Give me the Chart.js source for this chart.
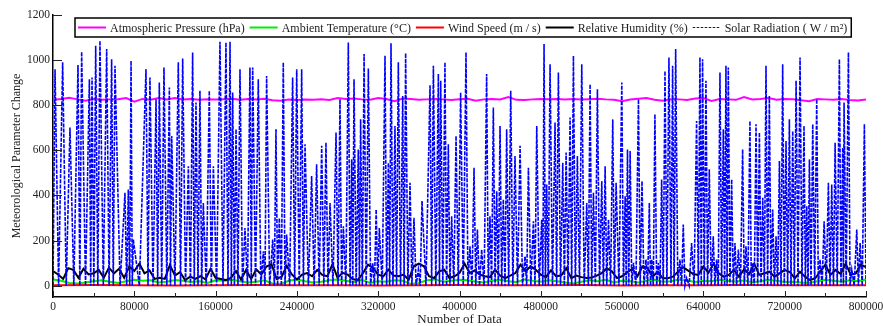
<!DOCTYPE html>
<html><head><meta charset="utf-8">
<script src="https://cdn.jsdelivr.net/npm/chart.js@4.4.1/dist/chart.umd.min.js"></script>
<style>html,body{margin:0;padding:0;background:#fff;overflow:hidden}</style>
</head><body>
<canvas id="c" width="883" height="326"></canvas>
<script>
// ---------------- DATA ----------------
const seriesNames = ['Atmospheric Pressure (hPa)', 'Ambient Temperature (°C)', 'Wind Speed (m / s)', 'Relative Humidity (%)', 'Solar Radiation ( W / m²)'];
const xTickValues = [0, 80000, 160000, 240000, 320000, 400000, 480000, 560000, 640000, 720000, 800000];
const yTickValues = [0, 200, 400, 600, 800, 1000, 1200];

// Solar radiation: data index (in thousands) and value (W/m2)
const solarIndexK = [
0,2,5.5,9.5,13,16.7,20.5,24.6,26.4,28.2,
32,35.8,37.1,38.4,40.2,42,44.1,46.2,49.5,52.8,
55.2,57.7,59.3,61,66,70.8,72.5,74.1,75.5,76.8,
78,79,85,91.5,93.5,95.4,98.4,101.4,103,104.6,
107,109.2,112,114.5,115.6,116.8,120,123.3,125.5,127.6,
130.4,133.2,135.3,137.4,139,140.7,142.7,144.6,146.3,147.9,
150.8,153.8,155.8,157.8,161,164.3,167.3,170.2,172.2,174.2,
175.5,176.8,178.5,180.1,182,184,186.5,188.9,191.4,193.8,
195.1,196.5,199.3,202,204.5,207,208.6,210.2,213.2,216.2,
217.8,219.4,221,222.7,224.7,226.6,228.3,229.9,232.9,235.8,
237.8,239.8,242.3,244.7,246.4,248,251.3,254.5,257,259.4,
261.9,264.4,266.5,268.6,270.6,272.6,275.5,278.5,280.5,282.4,
284,285.7,288.2,290.6,292.3,293.9,295,296.2,298.3,300.4,
301.5,302.7,304.4,306.1,308.2,310.3,312.5,314.6,316.3,318,
319.6,321.1,324,326.7,328.3,330,331.3,332.6,334.5,336.5,
338.1,339.8,342,344.1,345.5,347,349.2,351.3,353.2,355.2,
357.3,359.5,361.3,363.1,367,371,372.6,374.3,376.7,379.2,
380.3,381.5,383.6,385.7,387.3,389,390.6,392.3,394.4,396.6,
398.8,401.1,403.7,406.4,408.3,410.3,412.3,414.3,416,417.6,
419.7,421.8,424.2,426.7,428.3,430,431.6,433.3,435,436.6,
438.2,439.9,441.5,443.1,444.8,446.4,448.4,450.4,452.5,454.6,
457.1,459.6,462,464.5,466.1,467.8,470.2,472.7,474.3,476,
478.4,480.9,482,483.2,484.5,485.8,487.4,489.1,491.5,494,
495.6,497.3,499.4,501.6,503.2,504.9,506.8,508.8,510.4,512.1,
514,516,518.1,520.3,522.7,525.2,526.8,528.5,530.1,531.8,
533.7,535.7,537.8,540,541.6,543.3,544.9,546.6,548.7,550.8,
552.4,554.1,556.9,559.7,561.3,563,564.1,565.3,566.6,567.9,
569.5,571.2,573.6,576.1,577.8,579.6,581.5,583.5,585.1,586.8,
588,589.1,590.7,592.3,594,595.7,597.3,598.9,600.5,602.2,
604.1,606.1,608.1,609.7,611.2,612.7,614.8,616.9,618.5,620.2,
621.8,623.5,626,628.4,630.8,633.3,635,636.6,637.9,639.2,
640.8,642.5,644.1,645.8,647.7,649.7,651.3,653,654.6,656.3,
657.9,659.6,660.9,662.2,663.3,664.5,666.1,667.8,669.4,671.1,
672.7,674.4,676.5,678.6,680.2,681.9,683.8,685.8,687.1,688.5,
690.1,691.8,693.4,695.1,696.7,698.4,700,701.6,703.2,704.9,
706.5,708.2,709.8,711.5,713.1,714.8,716.4,718,719.6,721.3,
722.9,724.6,726.2,727.9,729.5,731.2,733.1,735.1,737,739,
740.3,741.7,743,744.3,745.9,747.6,749.5,751.5,753.1,754.8,
756.8,758.8,760.9,763,764.6,766.3,768,769.6,771.7,773.8,
775.4,777.1,777.8,778.4,780.5,782.7,784.3,786,788.4,790.9,
792.5,794.2,796.3,798.4,800
];
const solarValues = [
0,960,0,990,0,701,0,978,0,1037,
0,915,0,923,0,1064,0,1086,0,1049,
0,1004,0,975,0,412,0,427,0,997,
0,205,0,960,0,923,0,827,0,901,
0,967,0,879,0,664,0,990,0,1007,
0,530,0,1034,0,812,0,864,0,367,
0,864,0,530,0,1081,0,1078,0,1081,
0,856,0,694,0,960,0,256,0,967,
0,967,0,915,0,153,0,930,0,205,
0,694,0,300,0,990,0,227,0,923,
0,960,0,960,0,627,0,486,0,538,
0,620,0,634,0,367,0,679,0,827,
0,264,0,1078,0,560,0,915,0,604,
0,738,0,1027,0,963,0,101,0,338,
0,256,0,1019,0,545,0,1075,0,708,
0,990,0,841,0,1031,0,456,0,301,
0,71,0,375,0,889,0,975,0,938,
0,908,0,990,0,627,0,308,0,664,
0,856,0,1034,0,175,0,523,0,249,
0,160,0,938,0,308,0,790,0,419,
0,708,0,382,0,694,0,864,0,575,
0,620,0,130,0,523,0,286,0,708,
0,293,0,1071,0,449,0,982,0,723,
0,945,0,545,0,590,0,746,0,1019,
0,575,0,982,0,367,0,893,0,412,
0,871,0,464,0,530,0,293,0,738,
0,456,0,901,0,397,0,604,0,597,
0,101,0,827,0,464,0,116,0,367,
0,116,0,760,0,101,0,471,0,952,
0,1012,12,975,0,1049,0,116,0,271,
0,34,0,189,0,730,0,1012,0,1004,
0,908,0,516,0,219,0,116,0,945,
0,694,0,975,0,967,0,471,0,189,
0,160,0,604,0,175,0,730,0,101,
0,716,0,679,0,390,0,975,0,841,
0,338,0,219,0,553,0,982,0,642,
0,738,0,686,0,908,0,1012,0,708,
0,353,0,560,0,716,0,827,0,116,
0,286,0,456,0,449,0,634,0,1004,
0,612,0,812,0,1034,0,71,0,249,
0,189,0,716,0
];

// Relative humidity, one reading every 5000 data points (0 ... 800000)
const humidityStep = 5000;
const humidityValues = [
65,50,30,78,70,35,75,50,55,70,35,80,55,75,35,85,65,98,55,68,
30,35,30,92,45,60,25,40,30,42,28,75,35,30,25,35,65,28,70,30,
72,50,85,95,30,40,88,50,28,49,56,42,70,48,42,95,35,57,49,29,
26,56,93,78,49,42,71,45,42,49,27,86,98,86,42,34,64,71,34,42,
56,98,56,68,49,42,38,71,45,34,45,56,93,64,86,71,49,38,68,42,
45,78,34,45,38,34,36,45,56,77,64,34,42,59,75,42,85,78,40,62,
33,33,40,62,82,67,52,48,85,58,98,55,40,48,70,40,73,52,97,48,
55,62,40,55,70,61,33,62,40,25,33,62,93,48,70,52,98,48,55,93,
82
];

// Ambient temperature, one reading every 8000 data points
const temperatureStep = 8000;
const temperatureValues = [
28,22,12,10,14,20,24,18,12,20,26,
22,24,14,18,25,22,16,20,12,24,
22,26,20,14,18,24,10,8,22,28,
20,14,18,24,28,22,16,26,12,20,
18,24,22,8,12,24,28,18,22,26,
24,18,14,22,26,20,16,28,22,18,
24,20,14,10,18,24,20,26,14,22,
20,14,22,26,18,20,28,24,16,22,
20,26,22,18,24,14,20,26,22,16,
18,14,12,20,26,22,18,24,20,28
];

// Atmospheric pressure, one reading every 8000 data points
const pressureStep = 8000;
const pressureValues = [
824,828,833,826,820,828,824,826,827,832,816,828,824,832,826,832,826,828,824,827,
825,827,829,824,828,826,829,822,820,825,823,825,824,826,823,832,828,
830,826,824,832,828,818,830,828,824,826,828,826,823,827,829,820,826,828,826,836,
824,823,826,828,827,828,826,828,825,827,829,826,824,818,825,829,
832,824,820,827,826,823,830,832,819,828,826,824,836,826,828,832,824,828,827,822,
818,828,826,824,828,823,821,826
];

// Wind speed, one reading every 40000 data points
const windStep = 40000;
const windValues = [2,3,2,1,2,3,2,2,1,2,3,2,2,3,1,2,2,3,2,2,2];

// ---------------- BUILD ----------------
const FONT = "'Liberation Serif', 'Times New Roman', serif";
const TXT = '#222';
const solarPts = solarIndexK.map((k, i) => ({ x: k * 1000, y: solarValues[i] }));
const stepPts = (vals, step) => vals.map((v, i) => ({ x: i * step, y: v }));

const colors = ['#ff00ff', '#00ee00', '#ff0000', '#000000', '#0000ff'];
const widths = [2, 2, 2, 2, 1.6];
const dashes = [[], [], [], [], [4, 1.2]];

const datasets = [
  { label: seriesNames[0], data: stepPts(pressureValues, pressureStep), order: 4 },
  { label: seriesNames[1], data: stepPts(temperatureValues, temperatureStep), order: 3 },
  { label: seriesNames[2], data: stepPts(windValues, windStep), order: 2 },
  { label: seriesNames[3], data: stepPts(humidityValues, humidityStep), order: 1 },
  { label: seriesNames[4], data: solarPts, order: 0 }
].map((d, i) => Object.assign(d, {
  borderColor: colors[i], backgroundColor: colors[i], borderWidth: widths[i],
  borderDash: dashes[i], pointRadius: 0, tension: 0, fill: false
}));

const tickMarks = {
  id: 'tickMarks',
  afterDraw(chart) {
    const { ctx, chartArea: a } = chart;
    const xs = chart.scales.x, ys = chart.scales.y;
    ctx.save();
    ctx.strokeStyle = '#222';
    ctx.lineWidth = 1;
    ctx.beginPath();
    yTickValues.forEach(v => {
      const p = Math.round(ys.getPixelForValue(v)) + 0.5;
      ctx.moveTo(a.left, p); ctx.lineTo(a.left + 9, p);
    });
    xTickValues.forEach((v, i) => {
      const p = Math.round(xs.getPixelForValue(v)) + 0.5;
      ctx.moveTo(p, a.bottom); ctx.lineTo(p, a.bottom - 6);
      if (i < xTickValues.length - 1) {
        const m = Math.round(xs.getPixelForValue((v + xTickValues[i + 1]) / 2)) + 0.5;
        ctx.moveTo(m, a.bottom); ctx.lineTo(m, a.bottom - 4);
      }
    });
    ctx.stroke();
    ctx.restore();
  }
};

const boxLegend = {
  id: 'boxLegend',
  afterDraw(chart) {
    const ctx = chart.ctx;
    ctx.save();
    ctx.font = '12px ' + FONT;
    const top = 18, h = 19, left = 75;
    let x = left + 3;
    const items = [];
    seriesNames.forEach((n, i) => {
      const w = ctx.measureText(n).width;
      items.push({ n, i, x });
      x += 28 + 4 + w + 5;
    });
    const right = x - 5 + 4;
    ctx.fillStyle = '#fff';
    ctx.fillRect(left, top, right - left, h);
    ctx.strokeStyle = '#000';
    ctx.lineWidth = 1.5;
    ctx.strokeRect(left, top, right - left, h);
    const cy = top + h / 2;
    items.forEach(it => {
      ctx.beginPath();
      ctx.strokeStyle = colors[it.i];
      ctx.lineWidth = it.i === 4 ? 1.2 : 2;
      ctx.setLineDash(it.i === 4 ? [2.5, 1.5] : []);
      ctx.moveTo(it.x, cy); ctx.lineTo(it.x + 28, cy);
      ctx.stroke();
      ctx.setLineDash([]);
      ctx.fillStyle = TXT;
      ctx.textBaseline = 'middle';
      ctx.textAlign = 'left';
      ctx.fillText(it.n, it.x + 32, cy + 1);
    });
    ctx.restore();
  }
};

new Chart(document.getElementById('c'), {
  type: 'line',
  data: { datasets },
  options: {
    responsive: false, animation: false, devicePixelRatio: 1,
    layout: { padding: { top: 15, right: 17, bottom: 0, left: 0 } },
    plugins: { legend: { display: false }, tooltip: { enabled: false } },
    scales: {
      x: {
        type: 'linear', min: 0, max: 800000,
        afterBuildTicks: s => { s.ticks = xTickValues.map(v => ({ value: v })); },
        afterFit: s => { s.height = 29; s.paddingLeft = 0; s.paddingRight = 0; },
        ticks: { callback: v => String(v), font: { family: FONT, size: 11.5 }, color: TXT, padding: 3, maxRotation: 0, autoSkip: false },
        grid: { display: false, drawTicks: false },
        border: { display: true, color: '#000', width: 1.5 },
        title: { display: true, text: 'Number of Data', color: TXT, font: { family: FONT, size: 13, lineHeight: 1 }, padding: { top: 0, bottom: 0 } }
      },
      y: {
        type: 'linear', min: -50, max: 1200,
        afterBuildTicks: s => { s.ticks = yTickValues.map(v => ({ value: v })); },
        afterFit: s => { s.width = 53; },
        ticks: { callback: v => String(v), font: { family: FONT, size: 11.5 }, color: TXT, padding: 3, autoSkip: false },
        grid: { display: false, drawTicks: false },
        border: { display: true, color: '#000', width: 1.5 },
        title: { display: true, text: 'Meteorological Parameter Change', color: TXT, font: { family: FONT, size: 12, lineHeight: 1.2 }, padding: { top: 10, bottom: 0 } }
      }
    }
  },
  plugins: [tickMarks, boxLegend]
});
</script>
</body></html>
